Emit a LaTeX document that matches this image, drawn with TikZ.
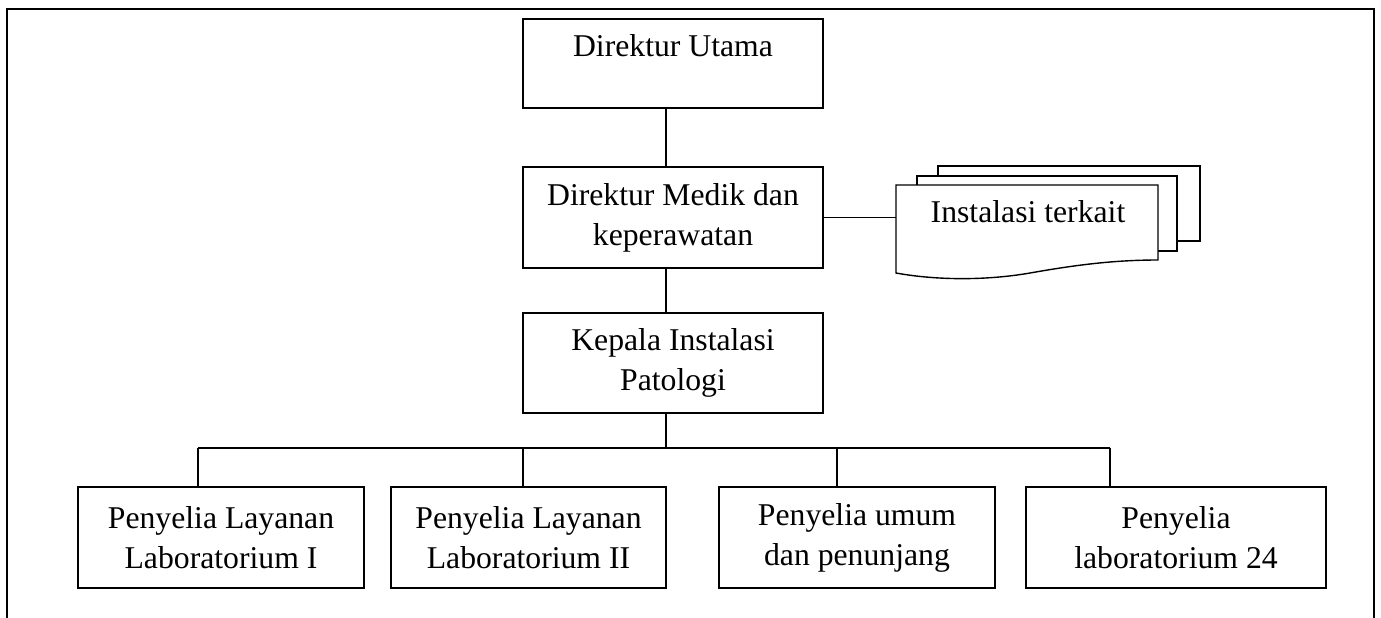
\documentclass[tikz,border=0pt]{standalone}
\usepackage{fontspec}
\setmainfont{Liberation Serif}
\begin{document}
\begin{tikzpicture}[x=1pt,y=-1pt,
  box/.style={draw=black, line width=1.3pt, fill=white, inner sep=0pt,
    align=center, font=\fontsize{31.7}{40}\selectfont},
  link/.style={draw=black, line width=1.3pt},
  doc/.style={draw=black, line width=1.4pt, fill=white, line join=miter}]
\useasboundingbox (0,0) rectangle (1381,618);

% outer frame, open at the bottom
\draw[line width=1.7pt] (7,618) -- (7,9) -- (1374,9) -- (1374,618);

% top-level boxes
\node[box, minimum width=300pt, minimum height=89pt] (du) at (673,63.5) {};
\node[font=\fontsize{31.7}{40}\selectfont, anchor=base, inner sep=0pt] (dut) at (673,57) {Direktur Utama};
\node[box, minimum width=300pt, minimum height=101pt] (dm) at (673,217.5) {Direktur Medik dan\\keperawatan};
\node[box, minimum width=300pt, minimum height=100pt] (kp) at (673,363) {Kepala Instalasi\\Patologi};

% supervisors
\node[box, minimum width=286pt, minimum height=101pt] (p1) at (221,537.5) {Penyelia Layanan\\Laboratorium I};
\node[box, minimum width=275pt, minimum height=101pt] (p2) at (528.5,537.5) {Penyelia Layanan\\Laboratorium II};
\node[box, minimum width=276pt, minimum height=101pt] (p3) at (857,537.5) {Penyelia umum\\dan penunjang};
\node[box, minimum width=300pt, minimum height=101pt] (p4) at (1176,537.5) {Penyelia\\laboratorium 24};

% multi-document shape for the related installations
\draw[doc] (938,176) -- (938,166) -- (1200,166) -- (1200,241) -- (1177,241);
\draw[doc] (917,185) -- (917,176) -- (1177,176) -- (1177,251) -- (1158,251);
\draw[doc] (896,185) -- (1158,185) -- (1158,260)
  .. controls (1110,260) and (1070,266) .. (1030,273)
  .. controls (990,280) and (940,281) .. (896,273) -- cycle;
\node[font=\fontsize{31.7}{40}\selectfont, anchor=base, inner sep=0pt] (inst) at (1028,222) {Instalasi terkait};
\coordinate (docL) at (896,217.5);

% connectors
\coordinate (vx) at (666,0);
\coordinate (b1) at (198,448);
\coordinate (b2) at (523,448);
\coordinate (b3) at (837,448);
\coordinate (b4) at (1110,448);
\draw[link] (du.south -| vx) -- (dm.north -| vx);
\draw[link] (dm.south -| vx) -- (kp.north -| vx);
\draw[link] (kp.south -| vx) -- (b1 -| vx);
\draw[link] (dm.east) -- (docL);
\draw[link] (b1) -- (b4);
\draw[link] (b1) -- (b1 |- p1.north);
\draw[link] (b2) -- (b2 |- p2.north);
\draw[link] (b3) -- (b3 |- p3.north);
\draw[link] (b4) -- (b4 |- p4.north);
\end{tikzpicture}
\end{document}
